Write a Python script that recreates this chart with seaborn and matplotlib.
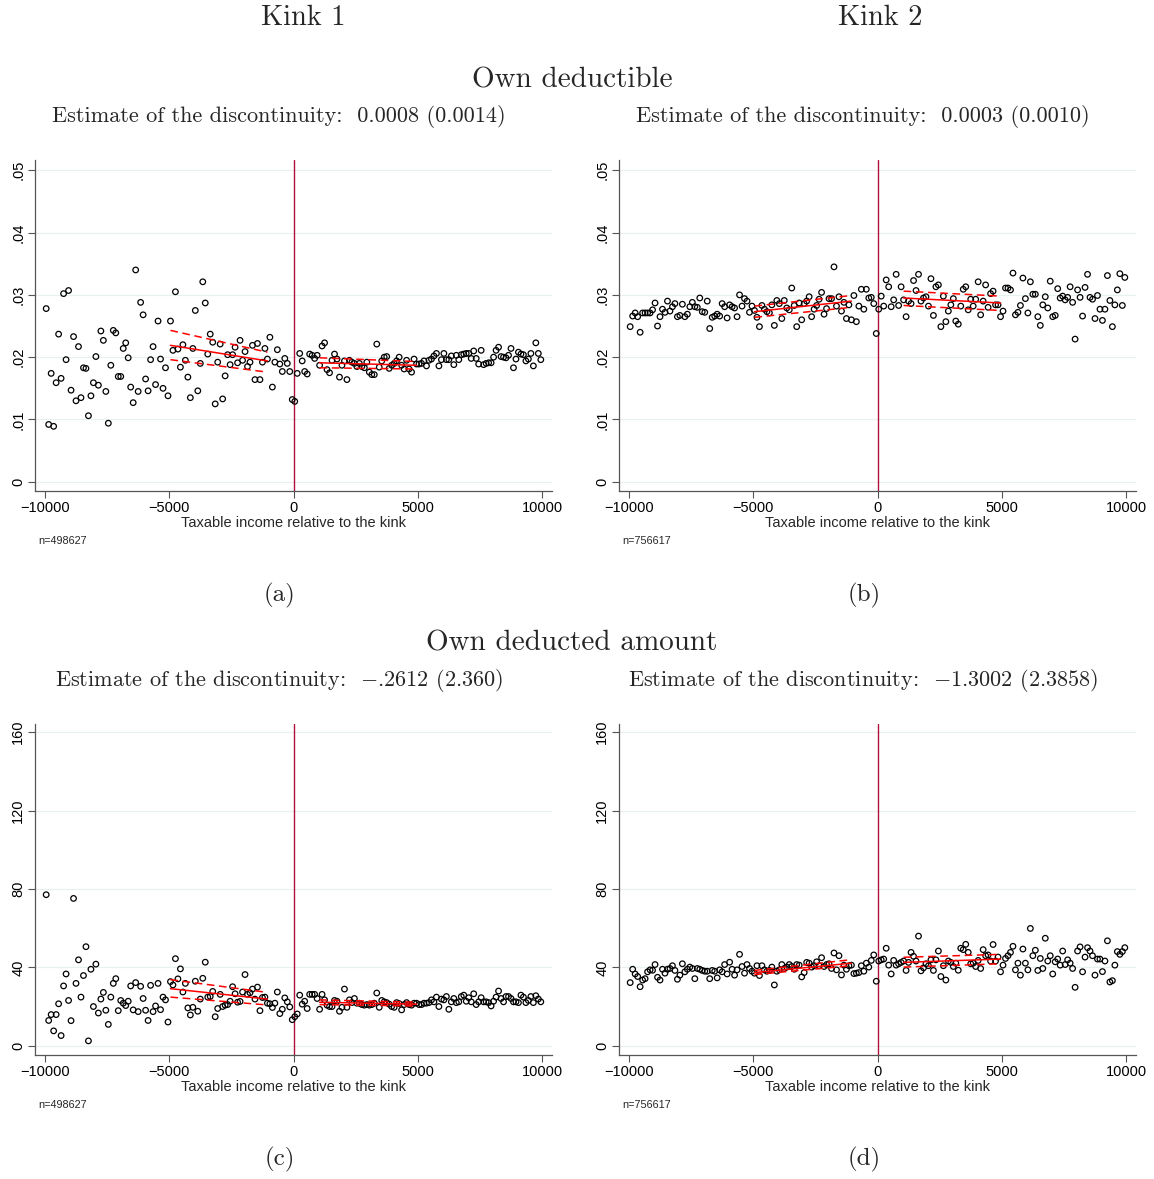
import numpy as np
import pandas as pd
import matplotlib
matplotlib.use("Agg")
import matplotlib.pyplot as plt
import seaborn as sns

sns.set_theme(style="white")
plt.rcParams["font.family"] = ["Liberation Sans", "DejaVu Sans"]
plt.rcParams["mathtext.fontset"] = "cm"
plt.rcParams["axes.unicode_minus"] = True

# ---------------- data ----------------
bins_left = np.arange(-9950, 0, 100)
bins_right = np.arange(50, 10000, 100)

a_left = [0.0278, 0.0092, 0.0174, 0.0089, 0.0159, 0.0237, 0.0166, 0.0302, 0.0196, 0.0307,
          0.0147, 0.0233, 0.0130, 0.0217, 0.0135, 0.0183, 0.0182, 0.0106, 0.0138, 0.0159,
          0.0201, 0.0155, 0.0242, 0.0227, 0.0145, 0.0094, 0.0187, 0.0243, 0.0239, 0.0169,
          0.0169, 0.0214, 0.0223, 0.0199, 0.0152, 0.0127, 0.0340, 0.0145, 0.0288, 0.0268,
          0.0165, 0.0146, 0.0196, 0.0217, 0.0156, 0.0258, 0.0197, 0.0150, 0.0183, 0.0138,
          0.0258, 0.0211, 0.0305, 0.0213, 0.0184, 0.0220, 0.0195, 0.0168, 0.0135, 0.0214,
          0.0275, 0.0146, 0.0190, 0.0321, 0.0287, 0.0205, 0.0237, 0.0224, 0.0125, 0.0192,
          0.0221, 0.0133, 0.0170, 0.0204, 0.0188, 0.0204, 0.0216, 0.0191, 0.0227, 0.0195,
          0.0209, 0.0185, 0.0192, 0.0219, 0.0164, 0.0222, 0.0164, 0.0192, 0.0214, 0.0197,
          0.0232, 0.0152, 0.0192, 0.0212, 0.0189, 0.0177, 0.0198, 0.0190, 0.0177, 0.0132]
a_right = [0.0129, 0.0174, 0.0206, 0.0194, 0.0177, 0.0173, 0.0205, 0.0203, 0.0198, 0.0203,
           0.0187, 0.0218, 0.0223, 0.0180, 0.0175, 0.0195, 0.0205, 0.0197, 0.0168, 0.0187,
           0.0194, 0.0164, 0.0195, 0.0192, 0.0190, 0.0185, 0.0190, 0.0185, 0.0183, 0.0192,
           0.0176, 0.0172, 0.0172, 0.0221, 0.0184, 0.0194, 0.0200, 0.0201, 0.0182, 0.0187,
           0.0190, 0.0194, 0.0200, 0.0187, 0.0181, 0.0195, 0.0181, 0.0176, 0.0197, 0.0189,
           0.0189, 0.0190, 0.0194, 0.0186, 0.0195, 0.0197, 0.0202, 0.0206, 0.0186, 0.0196,
           0.0206, 0.0196, 0.0196, 0.0202, 0.0188, 0.0203, 0.0196, 0.0204, 0.0205, 0.0206,
           0.0206, 0.0198, 0.0210, 0.0198, 0.0189, 0.0211, 0.0188, 0.0190, 0.0191, 0.0191,
           0.0200, 0.0211, 0.0216, 0.0201, 0.0200, 0.0199, 0.0203, 0.0214, 0.0183, 0.0197,
           0.0208, 0.0205, 0.0204, 0.0194, 0.0197, 0.0206, 0.0186, 0.0223, 0.0206, 0.0196]

b_left = [0.0249, 0.0266, 0.0271, 0.0265, 0.0240, 0.0271, 0.0271, 0.0271, 0.0271, 0.0276,
          0.0287, 0.0250, 0.0265, 0.0277, 0.0272, 0.0290, 0.0274, 0.0281, 0.0286, 0.0265,
          0.0267, 0.0285, 0.0265, 0.0269, 0.0281, 0.0288, 0.0281, 0.0280, 0.0295, 0.0273,
          0.0272, 0.0290, 0.0246, 0.0264, 0.0266, 0.0269, 0.0266, 0.0286, 0.0281, 0.0263,
          0.0284, 0.0281, 0.0279, 0.0265, 0.0300, 0.0282, 0.0294, 0.0290, 0.0272, 0.0282,
          0.0275, 0.0264, 0.0249, 0.0283, 0.0277, 0.0273, 0.0271, 0.0284, 0.0251, 0.0291,
          0.0286, 0.0262, 0.0291, 0.0279, 0.0276, 0.0311, 0.0283, 0.0249, 0.0287, 0.0260,
          0.0286, 0.0290, 0.0297, 0.0265, 0.0277, 0.0283, 0.0293, 0.0304, 0.0269, 0.0278,
          0.0294, 0.0294, 0.0345, 0.0282, 0.0297, 0.0274, 0.0288, 0.0262, 0.0284, 0.0260,
          0.0299, 0.0257, 0.0282, 0.0309, 0.0277, 0.0309, 0.0295, 0.0296, 0.0286, 0.0238]
b_right = [0.0277, 0.0298, 0.0282, 0.0324, 0.0313, 0.0281, 0.0292, 0.0333, 0.0283, 0.0313,
           0.0292, 0.0265, 0.0290, 0.0286, 0.0323, 0.0307, 0.0333, 0.0290, 0.0295, 0.0297,
           0.0282, 0.0326, 0.0267, 0.0313, 0.0316, 0.0249, 0.0298, 0.0257, 0.0274, 0.0284,
           0.0294, 0.0258, 0.0253, 0.0282, 0.0309, 0.0313, 0.0276, 0.0293, 0.0282, 0.0293,
           0.0321, 0.0268, 0.0290, 0.0316, 0.0280, 0.0302, 0.0306, 0.0284, 0.0284, 0.0265,
           0.0274, 0.0311, 0.0311, 0.0308, 0.0335, 0.0268, 0.0272, 0.0283, 0.0327, 0.0294,
           0.0271, 0.0321, 0.0301, 0.0301, 0.0265, 0.0251, 0.0284, 0.0297, 0.0279, 0.0322,
           0.0265, 0.0267, 0.0310, 0.0295, 0.0298, 0.0292, 0.0296, 0.0313, 0.0288, 0.0229,
           0.0308, 0.0296, 0.0266, 0.0312, 0.0333, 0.0296, 0.0293, 0.0262, 0.0299, 0.0277,
           0.0259, 0.0277, 0.0331, 0.0291, 0.0249, 0.0284, 0.0308, 0.0334, 0.0283, 0.0328]

c_left = [77.1, 13.0, 16.0, 7.7, 16.0, 21.5, 5.3, 30.6, 36.7, 23.2,
          12.9, 75.2, 31.9, 43.9, 24.9, 35.9, 50.6, 2.6, 39.1, 20.1,
          41.7, 16.8, 23.9, 27.3, 18.2, 11.0, 24.9, 31.9, 34.3, 18.0,
          23.2, 21.8, 20.6, 22.8, 30.6, 18.4, 32.3, 17.5, 30.4, 24.2,
          18.2, 13.0, 30.9, 17.5, 20.4, 31.9, 18.5, 24.9, 23.5, 12.2,
          32.8, 31.1, 44.5, 34.2, 39.3, 27.5, 31.9, 19.4, 15.8, 19.7,
          33.0, 17.7, 23.9, 34.5, 42.7, 24.9, 25.2, 27.8, 14.9, 19.1,
          26.3, 20.1, 20.8, 21.1, 22.8, 30.2, 26.6, 22.3, 22.7, 27.5,
          36.4, 26.3, 27.1, 29.0, 23.9, 30.0, 18.0, 24.7, 24.9, 21.8,
          21.5, 19.6, 21.8, 27.5, 16.5, 18.7, 24.5, 22.5, 19.9, 13.4]
c_right = [14.9, 16.3, 25.9, 21.3, 22.8, 19.1, 26.3, 26.3, 26.3, 24.2,
           18.7, 26.3, 23.5, 20.8, 20.1, 20.1, 23.2, 22.8, 17.7, 19.7,
           29.0, 19.7, 23.5, 22.1, 24.2, 21.8, 21.8, 21.1, 20.8, 21.1,
           20.8, 21.1, 21.8, 27.0, 19.7, 23.2, 22.5, 22.1, 21.3, 20.1,
           19.7, 22.1, 21.6, 18.4, 21.1, 22.1, 21.1, 20.8, 21.8, 21.8,
           21.1, 21.1, 21.8, 21.8, 22.1, 23.5, 22.5, 24.9, 20.1, 23.9,
           23.5, 25.2, 18.7, 22.5, 24.2, 22.1, 22.5, 25.2, 25.9, 22.8,
           24.6, 22.5, 26.6, 21.1, 22.5, 24.6, 22.5, 22.5, 22.1, 20.4,
           22.8, 24.9, 28.0, 24.2, 22.5, 25.2, 25.2, 24.2, 22.5, 22.5,
           22.1, 25.9, 24.9, 22.1, 23.2, 25.2, 22.1, 25.6, 23.9, 22.5]

d_left = [32.3, 39.1, 36.7, 35.4, 30.2, 33.6, 34.3, 37.8, 38.8, 38.6,
          41.5, 35.0, 33.6, 39.1, 37.1, 39.1, 39.5, 40.9, 38.5, 34.0,
          36.1, 41.9, 37.8, 39.1, 40.2, 39.5, 34.3, 39.5, 39.1, 38.5,
          38.1, 38.1, 34.3, 38.5, 38.1, 34.7, 38.8, 37.8, 41.5, 36.7,
          42.7, 39.1, 36.1, 38.8, 46.7, 40.5, 37.1, 41.5, 39.5, 38.1,
          37.1, 40.9, 35.9, 40.9, 38.8, 38.1, 38.5, 40.2, 31.1, 38.1,
          38.8, 41.5, 39.5, 40.2, 41.5, 40.5, 39.1, 41.5, 41.2, 35.2,
          37.4, 42.6, 42.2, 40.2, 40.9, 42.9, 40.9, 45.0, 40.5, 41.5,
          41.9, 39.5, 47.4, 38.8, 46.0, 36.2, 41.2, 39.1, 40.9, 41.2,
          36.9, 37.1, 37.4, 40.9, 38.1, 42.2, 40.2, 43.6, 46.4, 33.0]
d_right = [43.3, 43.9, 44.3, 49.8, 41.2, 36.7, 43.6, 41.2, 41.9, 42.6,
           43.3, 38.5, 42.6, 47.7, 45.7, 43.3, 56.0, 38.3, 39.8, 41.9,
           40.9, 43.9, 38.5, 43.9, 48.4, 35.4, 40.9, 33.6, 43.3, 42.6,
           40.5, 42.2, 38.6, 49.8, 49.1, 51.8, 47.7, 41.9, 42.2, 40.5,
           43.6, 39.5, 49.1, 46.0, 46.4, 43.3, 51.7, 43.3, 45.3, 37.8,
           41.2, 44.6, 46.0, 47.7, 50.8, 38.8, 42.2, 36.1, 49.4, 42.2,
           38.8, 59.9, 46.0, 48.8, 38.5, 44.6, 39.5, 54.9, 43.3, 46.0,
           36.7, 42.9, 44.3, 41.2, 48.4, 41.5, 43.9, 42.2, 39.5, 29.9,
           48.4, 50.5, 37.8, 45.3, 50.1, 48.4, 46.0, 36.1, 44.3, 44.3,
           37.9, 43.3, 53.6, 32.6, 33.3, 41.2, 48.1, 46.7, 48.1, 50.1]

# fitted lines (start/end values) over the estimation windows
fit_x_left = [-4950, -1050]
fit_x_right = [1050, 4950]
fits = {
    "a": {"ls": [0.0219, 0.0194], "lu": [0.0243, 0.0208], "ll": [0.0196, 0.0176],
          "rs": [0.0191, 0.0187], "ru": [0.0199, 0.0193], "rl": [0.0183, 0.0181]},
    "b": {"ls": [0.0273, 0.0290], "lu": [0.0282, 0.0299], "ll": [0.0264, 0.0280],
          "rs": [0.0295, 0.0287], "ru": [0.0306, 0.0298], "rl": [0.0283, 0.0275]},
    "c": {"ls": [29.2, 23.9], "lu": [33.8, 27.3], "ll": [24.9, 20.9],
          "rs": [22.3, 21.3], "ru": [23.5, 22.3], "rl": [21.1, 20.4]},
    "d": {"ls": [37.4, 42.2], "lu": [38.5, 44.0], "ll": [36.4, 40.9],
          "rs": [42.6, 44.3], "ru": [45.2, 46.7], "rl": [40.2, 41.9]},
}

x_ticks = [-10000, -5000, 0, 5000, 10000]
x_ticklabels = ["\u221210000", "\u22125000", "0", "5000", "10000"]
y_ticks_top = [0, 0.01, 0.02, 0.03, 0.04, 0.05]
y_ticklabels_top = ["0", ".01", ".02", ".03", ".04", ".05"]
y_ticks_bot = [0, 40, 80, 120, 160]
y_ticklabels_bot = ["0", "40", "80", "120", "160"]

col_titles = ["Kink 1", "Kink 2"]
row_titles = ["Own deductible", "Own deducted amount"]
estimates = ["Estimate of the discontinuity:  0.0008 (0.0014)",
             "Estimate of the discontinuity:  0.0003 (0.0010)",
             "Estimate of the discontinuity:  $-$.2612 (2.360)",
             "Estimate of the discontinuity:  $-$1.3002 (2.3858)"]
n_obs = ["n=498627", "n=756617", "n=498627", "n=756617"]
panel_labels = ["(a)", "(b)", "(c)", "(d)"]
x_label = "Taxable income relative to the kink"

# ---------------- figure ----------------
W, H = 1154, 1179
fig = plt.figure(figsize=(W / 100, H / 100), dpi=100)
fig.patch.set_facecolor("white")

SERIF = ["cmr10", "DejaVu Serif"]
VLINE = "#B0103C"
SPINE = "#555555"


def fx(px):
    return px / W


def fy(py):
    return 1 - py / H


panels = [
    ("a", a_left, a_right, 35, 160, (-0.00148, 0.05165), y_ticks_top, y_ticklabels_top),
    ("b", b_left, b_right, 619, 160, (-0.00148, 0.05165), y_ticks_top, y_ticklabels_top),
    ("c", c_left, c_right, 35, 724, (-4.6, 164.1), y_ticks_bot, y_ticklabels_bot),
    ("d", d_left, d_right, 619, 724, (-4.6, 164.1), y_ticks_bot, y_ticklabels_bot),
]
AW, AH = 517, 331

for i, (key, yl, yr, left, top, ylim, yt, ytl) in enumerate(panels):
    ax = fig.add_axes([fx(left), fy(top + AH), AW / W, AH / H])
    ax.set_facecolor("white")
    for yv in yt:
        ax.axhline(yv, color="#E8F0F2", lw=0.9, zorder=0)
    ax.axvline(0, color=VLINE, lw=1.0, zorder=1)
    df = pd.DataFrame({"x": np.concatenate([bins_left, bins_right]),
                       "y": np.concatenate([yl, yr])})
    sns.scatterplot(data=df, x="x", y="y", ax=ax, marker="o", s=16,
                    facecolors="none", edgecolor="black", linewidth=0.9, zorder=3)
    f = fits[key]
    for side, xs in (("l", fit_x_left), ("r", fit_x_right)):
        ax.plot(xs, f[side + "s"], color="red", lw=1.1, zorder=4)
        ax.plot(xs, f[side + "u"], color="red", lw=1.1, ls=(0, (5, 3)), zorder=4)
        ax.plot(xs, f[side + "l"], color="red", lw=1.1, ls=(0, (5, 3)), zorder=4)
    ax.set_xlim(-10400, 10400)
    ax.set_ylim(*ylim)
    ax.set_xticks(x_ticks)
    ax.set_xticklabels(x_ticklabels)
    ax.set_yticks(yt)
    ax.set_yticklabels(ytl, rotation=90, va="center")
    for s in ("top", "right"):
        ax.spines[s].set_visible(False)
    for s in ("left", "bottom"):
        ax.spines[s].set_color(SPINE)
        ax.spines[s].set_linewidth(0.9)
    ax.tick_params(axis="both", direction="out", length=5, width=0.8, color=SPINE,
                   labelsize=10.5, labelcolor="black", pad=2, bottom=True, left=True)
    ax.set_xlabel(x_label, fontsize=10.5, labelpad=1)
    ax.set_ylabel("")
    # texts
    cx = left + 258
    fig.text(fx(left + 3), fy(top + 381), n_obs[i], fontsize=7.8, ha="left", va="center")
    fig.text(fx(cx - 14), fy(top - 44), estimates[i], family=SERIF, fontsize=16,
             ha="center", va="center")
    fig.text(fx(cx - 13), fy(top + 435), panel_labels[i], family=SERIF, fontsize=18,
             ha="center", va="center")

fig.text(fx(303), fy(18), col_titles[0], family=SERIF, fontsize=20.5, ha="center", va="center")
fig.text(fx(880), fy(18), col_titles[1], family=SERIF, fontsize=20.5, ha="center", va="center")
fig.text(fx(572), fy(80), row_titles[0], family=SERIF, fontsize=21, ha="center", va="center")
fig.text(fx(572), fy(643), row_titles[1], family=SERIF, fontsize=21, ha="center", va="center")

fig.savefig("out.png", dpi=100, facecolor="white")
